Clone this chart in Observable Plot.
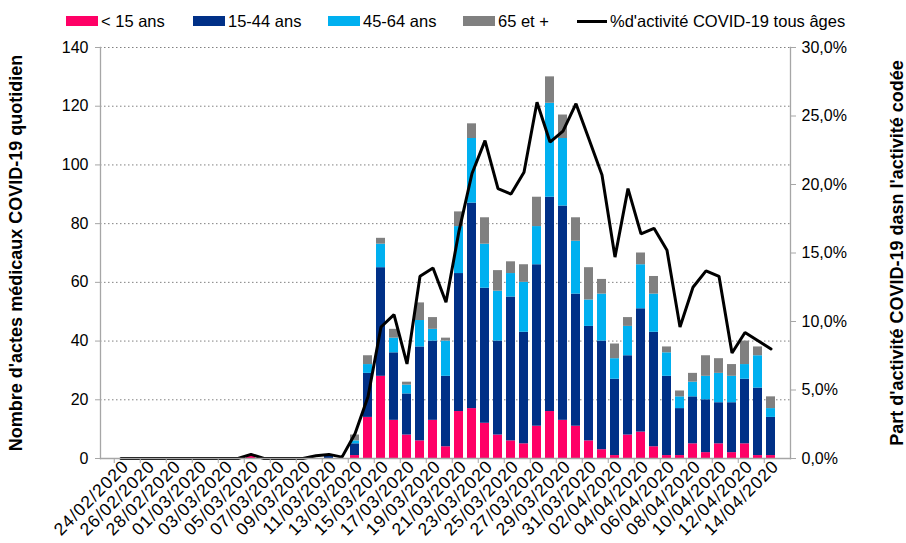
<!DOCTYPE html>
<html><head><meta charset="utf-8">
<script src="https://cdn.jsdelivr.net/npm/d3@7"></script>
<script src="https://cdn.jsdelivr.net/npm/@observablehq/plot@0.6"></script>
<style>
body{margin:0;background:#fff;font-family:"Liberation Sans",Arial,sans-serif;}
#wrap{position:relative;width:906px;height:543px;overflow:hidden;}
#legend{position:absolute;top:11px;left:0;width:906px;height:20px;font-size:16.5px;color:#000;}
#legend .it{position:absolute;top:0;display:flex;align-items:center;height:20px;white-space:nowrap;}
#legend .sw{display:inline-block;width:32px;height:10px;margin-right:3px;}
#legend .ln{display:inline-block;width:30px;height:3px;background:#000;margin-right:3px;}
g[aria-label="y-axis label"] text{font-weight:bold;font-size:18px;}
g[aria-label="x-axis tick label"] text{font-size:17.5px;letter-spacing:1px;}
</style></head><body>
<div id="wrap"><div id="chart"></div>
<div id="legend">
<div class="it" style="left:66px"><span class="sw" style="background:#FF0066"></span>&lt; 15 ans</div>
<div class="it" style="left:193px"><span class="sw" style="background:#003087"></span>15-44 ans</div>
<div class="it" style="left:328px"><span class="sw" style="background:#00B0F0"></span>45-64 ans</div>
<div class="it" style="left:463px"><span class="sw" style="background:#808080"></span>65 et +</div>
<div class="it" style="left:577px"><span class="ln"></span>%d'activité COVID-19 tous âges</div>
</div></div>
<script>
const dates = ["24/02/2020","25/02/2020","26/02/2020","27/02/2020","28/02/2020","29/02/2020",
"01/03/2020","02/03/2020","03/03/2020","04/03/2020","05/03/2020","06/03/2020","07/03/2020","08/03/2020","09/03/2020","10/03/2020",
"11/03/2020","12/03/2020","13/03/2020","14/03/2020","15/03/2020","16/03/2020","17/03/2020","18/03/2020","19/03/2020","20/03/2020",
"21/03/2020","22/03/2020","23/03/2020","24/03/2020","25/03/2020","26/03/2020","27/03/2020","28/03/2020","29/03/2020","30/03/2020","31/03/2020",
"01/04/2020","02/04/2020","03/04/2020","04/04/2020","05/04/2020","06/04/2020","07/04/2020","08/04/2020","09/04/2020","10/04/2020",
"11/04/2020","12/04/2020","13/04/2020","14/04/2020"];
const tickDates = ["24/02/2020","26/02/2020","28/02/2020","01/03/2020","03/03/2020","05/03/2020","07/03/2020","09/03/2020","11/03/2020",
"13/03/2020","15/03/2020","17/03/2020","19/03/2020","21/03/2020","23/03/2020","25/03/2020","27/03/2020","29/03/2020","31/03/2020",
"02/04/2020","04/04/2020","06/04/2020","08/04/2020","10/04/2020","12/04/2020","14/04/2020"];
const groups = ["< 15 ans","15-44 ans","45-64 ans","65 et +"];
const colors = ["#FF0066","#003087","#00B0F0","#808080"];
const under15 = [0,0,0,0,0,0,0,0,0,0,1,0,0,0,0,0,0,0,1,14,28,13,8,6,13,4,16,17,12,8,6,5,11,16,13,11,6,3,1,8,9,4,1,1,5,2,5,2,5,1,1];
const age15_44 = [0,0,0,0,0,0,0,0,0,0,0,0,0,0,0,0,1,0,4,15,37,23,14,32,27,24,47,70,46,32,49,38,55,73,73,45,39,37,26,27,42,39,27,16,16,18,14,17,22,23,13];
const age45_64 = [0,0,0,0,0,0,0,0,0,0,0,0,0,0,0,0,0,0,1,3,8,5,3,9,4,12,16,22,15,17,8,17,13,32,23,18,9,16,7,10,15,13,8,4,5,8,10,9,5,11,3];
const age65 = [0,0,0,0,0,0,0,0,0,0,0,0,0,0,0,0,0,0,2,3,2,3,1,6,4,1,5,5,9,7,4,6,10,9,8,8,11,5,5,3,4,6,2,2,3,7,5,4,8,3,4];
const pctActivite = [0,0,0,0,0,0,0,0,0,0,0.3,0,0,0,0,0.2,0.3,0.1,1.8,4.5,9.6,10.5,6.9,13.3,13.9,11.4,16.6,20.8,23.2,19.7,19.3,20.9,26.0,23.1,23.9,25.9,23.3,20.7,14.7,19.7,16.4,16.8,15.2,9.6,12.5,13.7,13.3,7.7,9.2,8.6,8.0];
const leftTicks = [0,20,40,60,80,100,120,140];
const rightTicks = [0,5,10,15,20,25,30];

const YMAX = 140, PMAX = 30;
const series = [under15, age15_44, age45_64, age65];
const bars = [];
dates.forEach((d,i)=>groups.forEach((g,k)=>bars.push({date:d, group:g, value:series[k][i]})));
const line = dates.map((d,i)=>({date:d, v: pctActivite[i]/PMAX*YMAX}));
const step = (906-100-116)/dates.length;

const chart = Plot.plot({
  width:906, height:543,
  marginTop:47, marginBottom:85, marginLeft:100, marginRight:116,
  style:{fontFamily:'"Liberation Sans",Arial,sans-serif', fontSize:"16px", color:"#000", background:"#fff"},
  x:{domain:dates, paddingInner:0.31, paddingOuter:0.155, label:null},
  y:{domain:[0,YMAX], label:null},
  color:{domain:groups, range:colors},
  marks:[
    Plot.gridY(leftTicks.slice(1), {stroke:"#808080", strokeOpacity:1, strokeDasharray:"1.5,2.5", strokeWidth:1}),
    Plot.barY(bars, {x:"date", y:"value", fill:"group", order:groups}),
    Plot.line(line, {x:"date", y:"v", stroke:"#000", strokeWidth:3, strokeLinejoin:"miter"}),
    Plot.frame({anchor:"left", stroke:"#a6a6a6", strokeWidth:1.3}),
    Plot.frame({anchor:"right", stroke:"#a6a6a6", strokeWidth:1.3}),
    Plot.frame({anchor:"bottom", stroke:"#a6a6a6", strokeWidth:1.3}),
    Plot.axisY({ticks:leftTicks, tickSize:5, tickPadding:7, stroke:"#a6a6a6", label:"Nombre d'actes médicaux COVID-19 quotidien", labelAnchor:"center", labelOffset:91, labelArrow:"none"}),
    Plot.axisY({anchor:"right", ticks:rightTicks.map(p=>p/PMAX*YMAX), tickSize:5, tickPadding:6, stroke:"#a6a6a6",
      tickFormat:v=>(v/YMAX*PMAX).toFixed(1).replace(".",",")+"%",
      label:"Part d'activité COVID-19 dasn l'activité codée", labelAnchor:"center", labelOffset:112, labelArrow:"none"}),
    Plot.axisX({ticks:tickDates, tickSize:5, stroke:"#a6a6a6", tickFormat:()=>"", dx:-step/2, label:null}),
    Plot.axisX({ticks:tickDates, tickSize:0, tickRotate:-45, tickPadding:5, dx:5, label:null})
  ]
});
document.getElementById("chart").appendChild(chart);
</script></body></html>
